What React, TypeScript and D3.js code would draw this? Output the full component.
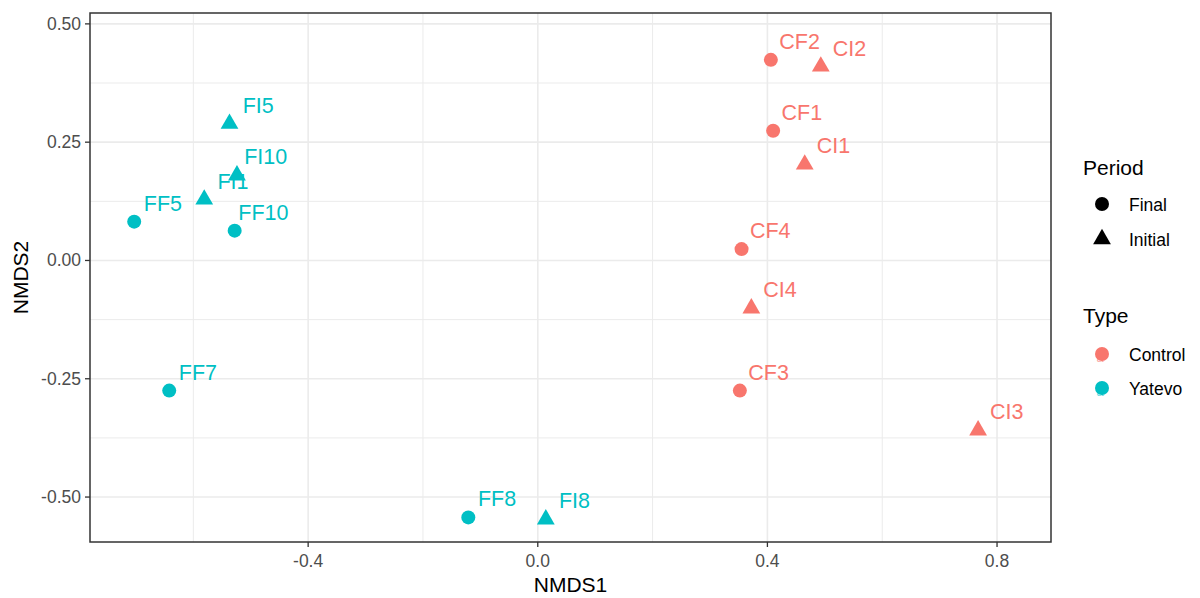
import React from "react";
import * as d3 from "d3";

const labels = ["CF2", "CI2", "CF1", "CI1", "CF4", "CI4", "CF3", "CI3", "FI5", "FI10", "FI1", "FF5", "FF10", "FF7", "FF8", "FI8"];
const nmds1 = [0.406, 0.493, 0.410, 0.465, 0.355, 0.372, 0.352, 0.767, -0.537, -0.524, -0.581, -0.703, -0.528, -0.642, -0.121, 0.014];
const nmds2 = [0.424, 0.410, 0.274, 0.203, 0.024, -0.101, -0.275, -0.359, 0.289, 0.180, 0.129, 0.082, 0.063, -0.275, -0.543, -0.547];
const periods = ["Final", "Initial", "Final", "Initial", "Final", "Initial", "Final", "Initial", "Initial", "Initial", "Initial", "Final", "Final", "Final", "Final", "Initial"];
const types = ["Control", "Control", "Control", "Control", "Control", "Control", "Control", "Control", "Yatevo", "Yatevo", "Yatevo", "Yatevo", "Yatevo", "Yatevo", "Yatevo", "Yatevo"];

const xTicks = [-0.4, 0.0, 0.4, 0.8];
const xMinor = [-0.6, -0.2, 0.2, 0.6];
const yTicks = [-0.5, -0.25, 0, 0.25, 0.5];
const yMinor = [-0.375, -0.125, 0.125, 0.375];
const periodLevels = ["Final", "Initial"];
const typeLevels = ["Control", "Yatevo"];
const typeColors = ["#F8766D", "#00BFC4"];

const W = 1200, H = 598;
const P = { left: 90, right: 1051, top: 13, bottom: 542 };
const FONT = "'Liberation Sans', Arial, Helvetica, sans-serif";

const x = d3.scaleLinear().domain([-0.780, 0.894]).range([P.left, P.right]);
const y = d3.scaleLinear().domain([-0.595, 0.523]).range([P.bottom, P.top]);
const color = d3.scaleOrdinal<string, string>().domain(typeLevels).range(typeColors);
const fmt = (spec: string) => (v: number) => d3.format(spec)(v).replace("\u2212", "-");

const CR = 7;
const TB = 6.6;
function triPath(cx: number, cy: number, b: number) {
  const r = 1.555 * b, xc = 1.347 * b, yc = 0.778 * b;
  return `M${cx},${cy - r}L${cx + xc},${cy + yc}L${cx - xc},${cy + yc}Z`;
}
function Mark({ cx, cy, period, fill }: { cx: number; cy: number; period: string; fill: string }) {
  return period === "Final" ? <circle cx={cx} cy={cy} r={CR} fill={fill} /> : <path d={triPath(cx, cy, TB)} fill={fill} />;
}

export default function App() {
  const idx = d3.range(labels.length);
  return (
    <svg width={W} height={H} style={{ display: "block", position: "absolute", left: 0, top: 0 }} fontFamily={FONT}>
      <rect x={0} y={0} width={W} height={H} fill="#fff" />
      {/* grid */}
      {xMinor.map((v) => <line key={"xm" + v} x1={x(v)} x2={x(v)} y1={P.top} y2={P.bottom} stroke="#EBEBEB" strokeWidth={1} />)}
      {yMinor.map((v) => <line key={"ym" + v} y1={y(v)} y2={y(v)} x1={P.left} x2={P.right} stroke="#EBEBEB" strokeWidth={1} />)}
      {xTicks.map((v) => <line key={"xg" + v} x1={x(v)} x2={x(v)} y1={P.top} y2={P.bottom} stroke="#EBEBEB" strokeWidth={1.6} />)}
      {yTicks.map((v) => <line key={"yg" + v} y1={y(v)} y2={y(v)} x1={P.left} x2={P.right} stroke="#EBEBEB" strokeWidth={1.6} />)}
      {/* labels */}
      {idx.map((i) => (
        <text key={"t" + i} x={x(nmds1[i] + 0.05)} y={y(nmds2[i] + 0.04) + 1} fill={color(types[i])} fontSize={21.5} textAnchor="middle" dominantBaseline="central">
          {labels[i]}
        </text>
      ))}
      {/* points */}
      {idx.map((i) => (
        <Mark key={"p" + i} cx={x(nmds1[i])} cy={y(nmds2[i])} period={periods[i]} fill={color(types[i])} />
      ))}
      {/* panel border */}
      <rect x={P.left} y={P.top} width={P.right - P.left} height={P.bottom - P.top} fill="none" stroke="#333333" strokeWidth={1.5} />
      {/* axes */}
      {xTicks.map((v) => (
        <g key={"xt" + v}>
          <line x1={x(v)} x2={x(v)} y1={P.bottom} y2={P.bottom + 5} stroke="#333333" strokeWidth={1.3} />
          <text x={x(v)} y={P.bottom + 25} fontSize={17.5} fill="#4D4D4D" textAnchor="middle">{fmt(".1f")(v)}</text>
        </g>
      ))}
      {yTicks.map((v) => (
        <g key={"yt" + v}>
          <line x1={P.left - 5} x2={P.left} y1={y(v)} y2={y(v)} stroke="#333333" strokeWidth={1.3} />
          <text x={P.left - 9} y={y(v)} fontSize={17.5} fill="#4D4D4D" textAnchor="end" dominantBaseline="central">{fmt(".2f")(v)}</text>
        </g>
      ))}
      <text x={(P.left + P.right) / 2} y={592} fontSize={21} textAnchor="middle" fill="#000">NMDS1</text>
      <text transform={`translate(28,${(P.top + P.bottom) / 2}) rotate(-90)`} fontSize={21} textAnchor="middle" fill="#000">NMDS2</text>
      {/* legend: Period */}
      <text x={1083} y={167} fontSize={21} dominantBaseline="central" fill="#000">Period</text>
      {periodLevels.map((p, k) => (
        <g key={"lp" + p}>
          <Mark cx={1102} cy={204 + k * 35} period={p} fill="#000" />
          <text x={1129} y={205 + k * 35} fontSize={17.5} dominantBaseline="central" fill="#000">{p}</text>
        </g>
      ))}
      {/* legend: Type */}
      <text x={1083} y={315} fontSize={21} dominantBaseline="central" fill="#000">Type</text>
      {typeLevels.map((t, k) => (
        <g key={"lt" + t}>
          <text x={1100} y={357 + k * 34} fontSize={13} fill={color(t)} textAnchor="middle" dominantBaseline="central" opacity={0.6}>a</text>
          <circle cx={1102} cy={354 + k * 34} r={CR} fill={color(t)} />
          <text x={1129} y={355 + k * 34} fontSize={17.5} dominantBaseline="central" fill="#000">{t}</text>
        </g>
      ))}
    </svg>
  );
}
